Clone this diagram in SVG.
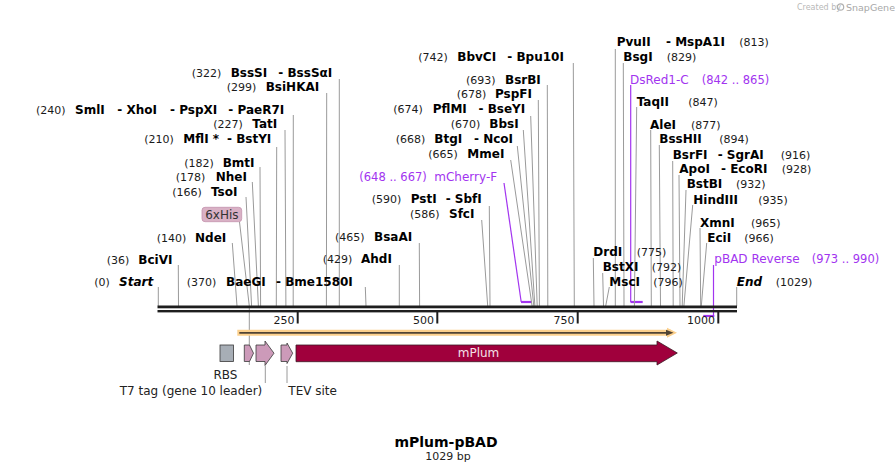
<svg xmlns="http://www.w3.org/2000/svg" width="895" height="472" viewBox="0 0 895 472">
<style>
text{font-family:"DejaVu Sans",Verdana,sans-serif}
.n{font-weight:bold;font-size:12px;fill:#000}
.bi{font-weight:bold;font-style:italic;font-size:12px;fill:#000}
.p{font-size:11px;fill:#1a1a1a}
.pu{font-size:12px;fill:#a234f0}
.pun{font-size:11.5px;fill:#a234f0}
.f{font-size:12px;fill:#222}
.l{stroke:#9a9a9a;stroke-width:1;fill:none}
.pl{stroke:#a234f0;stroke-width:1.2;fill:none}
.pb{stroke:#a234f0;stroke-width:2.2;fill:none}
.feat{fill:#cc9ab9;stroke:#3a3a3a;stroke-width:0.8}
.wm{font-size:8px;fill:#b8b8b8}
</style>
<rect width="895" height="472" fill="#fff"/>

<g id="watermark">
<text class="wm" x="797" y="10">Created by</text>
<circle cx="840.5" cy="7" r="3.2" fill="none" stroke="#b0b0b0" stroke-width="1.2"/>
<text class="wm" x="846" y="10.5" style="font-size:9.5px;fill:#a8a8a8">SnapGene</text>
</g>

<g id="connectors">
<path class="l" d="M158.3,287V306"/>
<path class="l" d="M178.3,265L178.5,306"/>
<path class="l" d="M232.3,243L237,306"/>
<path class="l" d="M239.5,222L249.3,306V365"/>
<path class="l" d="M246,197L251.6,306"/>
<path class="l" d="M252.3,182L258.4,306"/>
<path class="l" d="M260,167L260.6,306"/>
<path class="l" d="M276.7,147L276.3,306"/>
<path class="l" d="M285,130L285.9,306"/>
<path class="l" d="M293.3,115L293.2,306"/>
<path class="l" d="M326.7,93L326.4,306"/>
<path class="l" d="M339.3,79V306"/>
<path class="l" d="M365.3,287L366,306"/>
<path class="l" d="M399.3,265V306"/>
<path class="l" d="M419.3,243L419.6,306"/>
<path class="l" d="M481.7,220L487.7,306"/>
<path class="l" d="M489.3,206L490,306"/>
<path class="pl" d="M504,183L521.2,302"/>
<path class="pb" d="M521,302H532"/>
<path class="l" d="M510.7,160L532.1,306"/>
<path class="l" d="M517.3,146L533.8,306"/>
<path class="l" d="M523.3,130L534.9,306"/>
<path class="l" d="M530.7,116L537.2,306"/>
<path class="l" d="M538.3,100L539.4,306"/>
<path class="l" d="M547.3,85L547.8,306"/>
<path class="l" d="M573.3,63L574.3,306"/>
<path class="l" d="M615.3,49V306"/>
<path class="l" d="M623.3,63L624,306"/>
<path class="pl" d="M630.7,85V302"/>
<path class="pb" d="M630.5,302H642.7"/>
<path class="l" d="M636.7,107L634.4,306"/>
<path class="l" d="M650.7,130L651.3,306"/>
<path class="l" d="M659.3,145L660.5,306"/>
<path class="l" d="M672.7,161L673.2,306"/>
<path class="l" d="M679,175L680,306"/>
<path class="l" d="M686,190L682.2,306"/>
<path class="l" d="M692.7,205L683.9,306"/>
<path class="l" d="M700,228L700.7,306"/>
<path class="l" d="M706.7,243L701.3,306"/>
<path class="pl" d="M713.5,265V316"/>
<path class="pb" d="M703.3,316H714.3"/>
<path class="l" d="M593.3,258L594,306"/>
<path class="l" d="M602.7,273L603.5,306"/>
<path class="l" d="M609.3,287L605.7,306"/>
<path class="l" d="M736.7,287V306"/>
<path class="l" d="M265.3,366V383"/>
<path class="l" d="M287,366V383"/>
</g>

<g id="backbone">
<rect x="157.5" y="305.5" width="579.5" height="2.8" fill="#1e1e1e"/>
<rect x="157.5" y="310" width="579.5" height="2.4" fill="#1e1e1e"/>
<rect x="296.7" y="312" width="2" height="11.5" fill="#1e1e1e"/>
<rect x="436.3" y="312" width="2" height="11.5" fill="#1e1e1e"/>
<rect x="576.7" y="312" width="2" height="11.5" fill="#1e1e1e"/>
<rect x="717.3" y="312" width="2" height="11.5" fill="#1e1e1e"/>
<text class="p" x="294.5" y="323.5" text-anchor="end">250</text>
<text class="p" x="434" y="323.5" text-anchor="end">500</text>
<text class="p" x="574.5" y="323.5" text-anchor="end">750</text>
<text class="p" x="715" y="323.5" text-anchor="end">1000</text>
</g>

<g id="orf">
<path d="M237.3,332.8H671" stroke="#fcd08c" stroke-width="6" fill="none"/>
<path d="M667,327.8L677,332.8L667,337.8Z" fill="#fcd08c"/>
<path d="M239.3,332.8H668" stroke="#504434" stroke-width="1.8" fill="none"/>
<path d="M666,329.8L673.5,332.8L666,335.8Z" fill="#504434"/>
</g>

<g id="mPlum">
<path d="M296,345H657V341L677.3,353L657,365V361.7H296Z" fill="#a0003c" stroke="#3a1a24" stroke-width="0.8"/>
<text x="478.5" y="357" text-anchor="middle" style="font-size:12px;fill:#f4e0e8">mPlum</text>
</g>
<g id="RBS">
<rect x="220" y="345" width="13.5" height="16.5" fill="#a7aeb6" stroke="#3a3a3a" stroke-width="0.8"/>
<text class="f" x="225.5" y="378.5" text-anchor="middle">RBS</text>
</g>
<g id="f6xHis">
<path class="feat" d="M244.3,345H249.5L253.5,353.2L249.5,361.5H244.3Z"/>
<rect x="202" y="207.3" width="39.7" height="14.4" rx="3" fill="#d9b1c5" stroke="#c493ad" stroke-width="0.8"/>
<text x="221.9" y="218.6" text-anchor="middle" style="font-size:12px;fill:#333">6xHis</text>
</g>
<g id="T7tag">
<path class="feat" d="M256,345H265V341L274,353.2L265,365.5V361.5H256Z"/>
<text class="f" x="262.3" y="394.5" text-anchor="end">T7 tag (gene 10 leader)</text>
</g>
<g id="TEV">
<path class="feat" d="M281,345H287V343L292.7,353.2L287,363.5V361.5H281Z"/>
<text class="f" x="288.3" y="394.5">TEV site</text>
</g>

<g id="site-start"><text class="p" x="94.3" y="286.4">(0)</text><text class="bi" x="119" y="286.4">Start</text></g>
<g id="site-BciVI"><text class="p" x="106.7" y="263.7">(36)</text><text class="n" x="138.3" y="263.7">BciVI</text></g>
<g id="site-NdeI"><text class="p" x="156.7" y="241.7">(140)</text><text class="n" x="195" y="241.7">NdeI</text></g>
<g id="site-TsoI"><text class="p" x="172.3" y="196">(166)</text><text class="n" x="211" y="196">TsoI</text></g>
<g id="site-NheI"><text class="p" x="175.7" y="181">(178)</text><text class="n" x="215.7" y="181">NheI</text></g>
<g id="site-BmtI"><text class="p" x="184.3" y="167">(182)</text><text class="n" x="222.7" y="167">BmtI</text></g>
<g id="site-MflI"><text class="p" x="144.3" y="143">(210)</text><text class="n" x="183.3" y="143">MflI *</text><text class="n" x="227" y="143">- BstYI</text></g>
<g id="site-TatI"><text class="p" x="213.3" y="128.4">(227)</text><text class="n" x="252.3" y="128.4">TatI</text></g>
<g id="site-SmlI"><text class="p" x="36" y="113.7">(240)</text><text class="n" x="75" y="113.7">SmlI</text><text class="n" x="117.3" y="113.7">- XhoI</text><text class="n" x="170" y="113.7">- PspXI</text><text class="n" x="228.3" y="113.7">- PaeR7I</text></g>
<g id="site-BsiHKAI"><text class="p" x="226.7" y="91">(299)</text><text class="n" x="265.7" y="91">BsiHKAI</text></g>
<g id="site-BssSI"><text class="p" x="191.7" y="77">(322)</text><text class="n" x="230.7" y="77">BssSI</text><text class="n" x="278.3" y="77">- BssSαI</text></g>
<g id="site-BaeGI"><text class="p" x="186.7" y="286">(370)</text><text class="n" x="226" y="286">BaeGI</text><text class="n" x="276" y="286">- Bme1580I</text></g>
<g id="site-AhdI"><text class="p" x="322.7" y="263.4">(429)</text><text class="n" x="361" y="263.4">AhdI</text></g>
<g id="site-BsaAI"><text class="p" x="335" y="241">(465)</text><text class="n" x="374" y="241">BsaAI</text></g>
<g id="site-SfcI"><text class="p" x="410" y="217.7">(586)</text><text class="n" x="449" y="217.7">SfcI</text></g>
<g id="site-PstI"><text class="p" x="371.7" y="202.7">(590)</text><text class="n" x="410.7" y="202.7">PstI</text><text class="n" x="445.7" y="202.7">- SbfI</text></g>
<g id="primer-mCherryF"><text class="pun" x="359.3" y="181">(648 .. 667)</text><text class="pu" x="434.3" y="181">mCherry-F</text></g>
<g id="site-MmeI"><text class="p" x="428.3" y="158.4">(665)</text><text class="n" x="467.3" y="158.4">MmeI</text></g>
<g id="site-BtgI"><text class="p" x="395.7" y="142.7">(668)</text><text class="n" x="434.3" y="142.7">BtgI</text><text class="n" x="474" y="142.7">- NcoI</text></g>
<g id="site-BbsI"><text class="p" x="450.7" y="128.4">(670)</text><text class="n" x="489.3" y="128.4">BbsI</text></g>
<g id="site-PflMI"><text class="p" x="393.3" y="113.4">(674)</text><text class="n" x="432.7" y="113.4">PflMI</text><text class="n" x="478.5" y="113.4">- BseYI</text></g>
<g id="site-PspFI"><text class="p" x="456.7" y="98.4">(678)</text><text class="n" x="495" y="98.4">PspFI</text></g>
<g id="site-BsrBI"><text class="p" x="466" y="83.7">(693)</text><text class="n" x="505" y="83.7">BsrBI</text></g>
<g id="site-BbvCI"><text class="p" x="418.3" y="61">(742)</text><text class="n" x="457.3" y="61">BbvCI</text><text class="n" x="507.3" y="61">- Bpu10I</text></g>

<g id="site-PvuII"><text class="n" x="616.7" y="46.4">PvuII</text><text class="n" x="666" y="46.4">- MspA1I</text><text class="p" x="739.3" y="46.4">(813)</text></g>
<g id="site-BsgI"><text class="n" x="623.3" y="61">BsgI</text><text class="p" x="666.7" y="61">(829)</text></g>
<g id="primer-DsRed1C"><text class="pu" x="630" y="83.7">DsRed1-C</text><text class="pun" x="701.7" y="83.7">(842 .. 865)</text></g>
<g id="site-TaqII"><text class="n" x="636.7" y="106">TaqII</text><text class="p" x="688.3" y="106">(847)</text></g>
<g id="site-AleI"><text class="n" x="650" y="128.7">AleI</text><text class="p" x="691" y="128.7">(877)</text></g>
<g id="site-BssHII"><text class="n" x="659.3" y="143">BssHII</text><text class="p" x="719.3" y="143">(894)</text></g>
<g id="site-BsrFI"><text class="n" x="672.7" y="158.7">BsrFI</text><text class="n" x="717.7" y="158.7">- SgrAI</text><text class="p" x="780.7" y="158.7">(916)</text></g>
<g id="site-ApoI"><text class="n" x="679.3" y="173.4">ApoI</text><text class="n" x="721" y="173.4">- EcoRI</text><text class="p" x="781.7" y="173.4">(928)</text></g>
<g id="site-BstBI"><text class="n" x="686.7" y="188.4">BstBI</text><text class="p" x="736" y="188.4">(932)</text></g>
<g id="site-HindIII"><text class="n" x="693.3" y="203.7">HindIII</text><text class="p" x="758.3" y="203.7">(935)</text></g>
<g id="site-XmnI"><text class="n" x="700" y="226.7">XmnI</text><text class="p" x="751" y="226.7">(965)</text></g>
<g id="site-EciI"><text class="n" x="707.3" y="241.7">EciI</text><text class="p" x="744.3" y="241.7">(966)</text></g>
<g id="primer-pBADRev"><text class="pu" x="714.3" y="263.4">pBAD Reverse</text><text class="pun" x="811.7" y="263.4">(973 .. 990)</text></g>
<g id="site-DrdI"><text class="n" x="593.3" y="256">DrdI</text><text class="p" x="636.7" y="256">(775)</text></g>
<g id="site-BstXI"><text class="n" x="602.7" y="271">BstXI</text><text class="p" x="651.7" y="271">(792)</text></g>
<g id="site-MscI"><text class="n" x="609.3" y="286">MscI</text><text class="p" x="653.3" y="286">(796)</text></g>
<g id="site-end"><text class="bi" x="736.7" y="286">End</text><text class="p" x="775.7" y="286">(1029)</text></g>

<g id="title">
<text x="446" y="446.5" text-anchor="middle" style="font-weight:bold;font-size:14px;fill:#000">mPlum-pBAD</text>
<text x="448" y="459.5" text-anchor="middle" style="font-size:11px;fill:#222">1029 bp</text>
</g>
</svg>
